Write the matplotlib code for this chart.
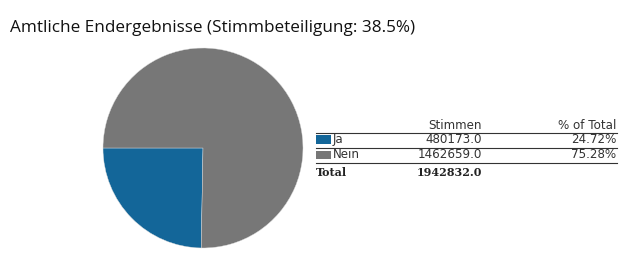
import matplotlib.pyplot as plt
from matplotlib.lines import Line2D
from matplotlib.patches import Rectangle

# data
labels = ['Ja', 'Nein']
votes = [480173.0, 1462659.0]
pct_labels = ['24.72%', '75.28%']
colors = ['#136699', '#777777']
title = 'Amtliche Endergebnisse (Stimmbeteiligung: 38.5%)'

W, H = 634, 262
fig = plt.figure(figsize=(W / 100, H / 100), dpi=100)


def fx(x):
    return x / W


def fy(y):
    return 1 - y / H


fig.text(fx(10), fy(28), title, fontsize=12.3, family='Open Sans',
         va='center', ha='left', color='#111111')

# pie
ax = fig.add_axes([fx(103), fy(248), 200 / W, 200 / H])
ax.pie(votes, colors=colors, startangle=180, counterclock=True,
       wedgeprops=dict(linewidth=0.3, edgecolor='#dddddd'))
ax.set_xlim(-1, 1)
ax.set_ylim(-1, 1)
ax.set_aspect('equal')
ax.axis('off')

# table
tfont = dict(fontsize=8.6, family='DejaVu Sans', color='#333333', va='center')
fig.text(fx(482), fy(125), 'Stimmen', ha='right', **tfont)
fig.text(fx(616), fy(125), '% of Total', ha='right', **tfont)

for yl in [132.5, 147.5, 162.5]:
    fig.add_artist(Line2D([fx(316), fx(617)], [fy(yl), fy(yl)],
                          color='#333333', linewidth=0.8))

rows_y = [139.5, 155]
for i, lab in enumerate(labels):
    y = rows_y[i]
    fig.add_artist(Rectangle((fx(316), fy(y + 4.2)), 15 / W, 8.5 / H,
                             facecolor=colors[i], edgecolor='none'))
    fig.text(fx(333), fy(y), lab, ha='left', **tfont)
    fig.text(fx(482), fy(y), f'{votes[i]:.1f}', ha='right', **tfont)
    fig.text(fx(616), fy(y), pct_labels[i], ha='right', **tfont)

total = sum(votes)
fig.text(fx(316), fy(172), 'Total', ha='left', fontsize=8,
         family='DejaVu Serif', weight='bold', color='#222222', va='center')
fig.text(fx(482), fy(172), f'{total:.1f}', ha='right', fontsize=8,
         family='DejaVu Serif', weight='bold', color='#222222', va='center')

fig.savefig('out.png', dpi=100)
